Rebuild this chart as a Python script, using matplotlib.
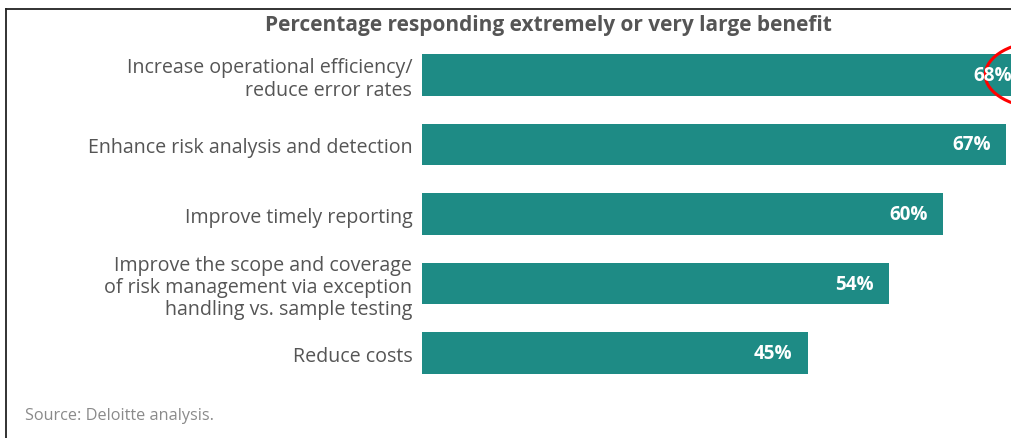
import matplotlib
matplotlib.use("Agg")
import matplotlib.pyplot as plt
from matplotlib.patches import Ellipse
from matplotlib.lines import Line2D

categories = [
    "Increase operational efficiency/\nreduce error rates",
    "Enhance risk analysis and detection",
    "Improve timely reporting",
    "Improve the scope and coverage\nof risk management via exception\nhandling vs. sample testing",
    "Reduce costs",
]
values = [68, 67, 60, 54, 45]
value_labels = ["68%", "67%", "60%", "54%", "45%"]
title = "Percentage responding extremely or very large benefit"
source = "Source: Deloitte analysis."

BAR = "#1E8B85"
W, H = 1012, 439
fig = plt.figure(figsize=(W / 100, H / 100), dpi=100)
fig.patch.set_facecolor("white")

ax = fig.add_axes([422 / W, 1 - 389 / H, 1 - 422 / W, (389 - 41) / H])
y = list(range(len(categories)))
ax.barh(y, values, height=0.6, color=BAR, left=0)
ax.set_xlim(2.11, 67.67)
ax.set_ylim(len(categories) - 0.5, -0.5)
ax.set_yticks(y)
ax.set_yticklabels(categories, fontsize=14.1, color="#555555", family="Open Sans",
                   linespacing=1.15)
ax.tick_params(axis="y", length=0, pad=7)
ax.set_xticks([])
for s in ax.spines.values():
    s.set_visible(False)

for i, (yi, v, lab) in enumerate(zip(y, values, value_labels)):
    off = -11 if i > 0 else -2
    ax.annotate(lab, xy=(v, yi), xytext=(off, 0), textcoords="offset points",
                ha="right", va="center", color="white", fontsize=13.6,
                fontweight="bold", family="Open Sans", annotation_clip=False)

# red circle annotation around first value
ell = Ellipse((values[0] + 3.4, y[0]), width=13.4, height=0.97, fill=False,
              edgecolor="red", linewidth=2.2, clip_on=False)
ax.add_patch(ell)

fig.text(548 / W, 1 - 25 / H, title, ha="center", va="center", fontsize=15,
         fontweight="bold", color="#555555", family="Open Sans")
fig.text(25 / W, 1 - 416 / H, source, ha="left", va="center", fontsize=11.7,
         color="#8a8a8a", family="Open Sans")

# frame lines
fig.add_artist(Line2D([6 / W, 1.0], [1 - 10 / H, 1 - 10 / H], color="#222222", linewidth=1.3))
fig.add_artist(Line2D([6 / W, 6 / W], [1 - 10 / H, 0], color="#222222", linewidth=1.3))

fig.savefig("out.png", dpi=100)
